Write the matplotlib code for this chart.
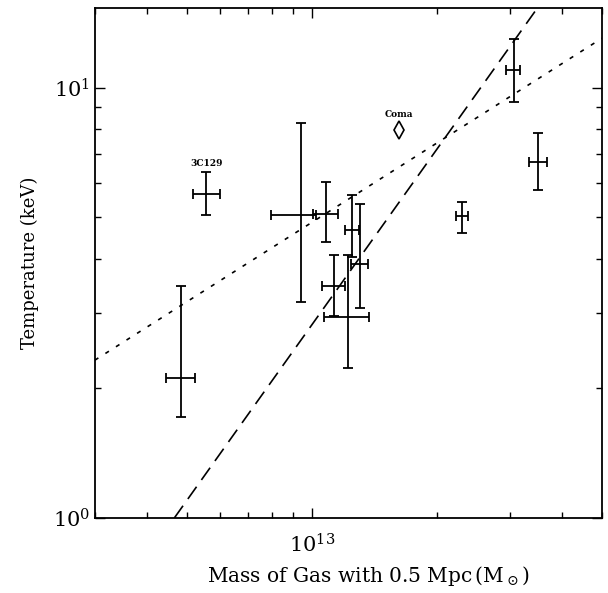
import numpy as np
import matplotlib
matplotlib.use("Agg")
import matplotlib.pyplot as plt
from matplotlib import ticker

plt.rcParams.update({"font.family": "serif",
                     "font.serif": ["DejaVu Serif"],
                     "mathtext.fontset": "dejavuserif"})

# gas mass within 0.5 Mpc (Msun) and temperature (keV), with error ranges
mgas = np.array([4.85e12, 5.57e12, 9.39e12, 1.082e13, 1.25e13, 1.129e13,
                 1.22e13, 1.306e13, 3.07e13, 3.51e13, 2.30e13])
mgas_lo = np.array([4.44e12, 5.18e12, 7.98e12, 1.006e13, 1.202e13, 1.059e13,
                    1.069e13, 1.243e13, 2.94e13, 3.34e13, 2.23e13])
mgas_hi = np.array([5.24e12, 6.00e12, 1.024e13, 1.155e13, 1.302e13, 1.204e13,
                    1.371e13, 1.368e13, 3.18e13, 3.69e13, 2.38e13])
temp = np.array([2.12, 5.65, 5.06, 5.09, 4.66, 3.45, 2.93, 3.90, 11.0, 6.72, 5.02])
temp_lo = np.array([1.72, 5.05, 3.17, 4.38, 4.03, 2.95, 2.23, 3.07, 9.25, 5.77, 4.58])
temp_hi = np.array([3.46, 6.37, 8.25, 6.03, 5.62, 4.08, 4.09, 5.35, 12.97, 7.82, 5.42])
names = ["", "3C129", "", "", "", "", "", "", "", "", ""]

# Coma, plotted separately
coma_m = 1.62e13
coma_t = 7.95

# power-law fits T = norm * (M / 1e13)^slope
fit_dash = (2.81, 1.354)
fit_dot = (4.86, 0.612)

fig = plt.figure(figsize=(6.08, 5.93), dpi=100)
ax = fig.add_axes([0.156, 0.1265, 0.834, 0.86])

ax.errorbar(mgas, temp,
            xerr=[mgas - mgas_lo, mgas_hi - mgas],
            yerr=[temp - temp_lo, temp_hi - temp],
            fmt='none', ecolor='black', elinewidth=1.3, capsize=3.5, capthick=1.3)

for k in range(len(names)):
    if names[k]:
        ax.annotate(names[k], (mgas[k], temp_hi[k]), xytext=(0, 3),
                    textcoords='offset points', ha='center', va='bottom',
                    fontsize=6.5, fontweight='bold')

ax.plot([coma_m], [coma_t], marker='d', markersize=9, mfc='white',
        mec='black', mew=1.2, ls='none')
ax.annotate("Coma", (coma_m, coma_t), xytext=(0, 8), textcoords='offset points',
            ha='center', va='bottom', fontsize=6.5, fontweight='bold')

xmin, xmax = 3.0e12, 5.0e13
ymin, ymax = 1.0, 15.3
mm = np.logspace(np.log10(xmin), np.log10(xmax), 200)
ax.plot(mm, fit_dash[0] * (mm / 1e13) ** fit_dash[1], color='black', lw=1.2,
        ls=(0, (9, 5)))
ax.plot(mm, fit_dot[0] * (mm / 1e13) ** fit_dot[1], color='black', lw=1.2,
        ls=(0, (2.5, 5)))

ax.set_xscale('log')
ax.set_yscale('log')
ax.set_xlim(xmin, xmax)
ax.set_ylim(ymin, ymax)
ax.xaxis.set_minor_formatter(ticker.NullFormatter())
ax.yaxis.set_minor_formatter(ticker.NullFormatter())
ax.tick_params(which='both', direction='in', top=True, right=True, labelsize=15)
ax.tick_params(axis='x', which='major', pad=11)
ax.tick_params(which='major', length=7, width=1)
ax.tick_params(which='minor', length=4, width=1)
for s in ax.spines.values():
    s.set_linewidth(1.3)

ax.set_xlabel(r"Mass of Gas with 0.5 Mpc$\,$(M$_\odot$)", fontsize=14.5)
ax.xaxis.set_label_coords(0.54, -0.09)
ax.set_ylabel("Temperature (keV)", fontsize=13, labelpad=10)

fig.savefig("out.png", dpi=100)
